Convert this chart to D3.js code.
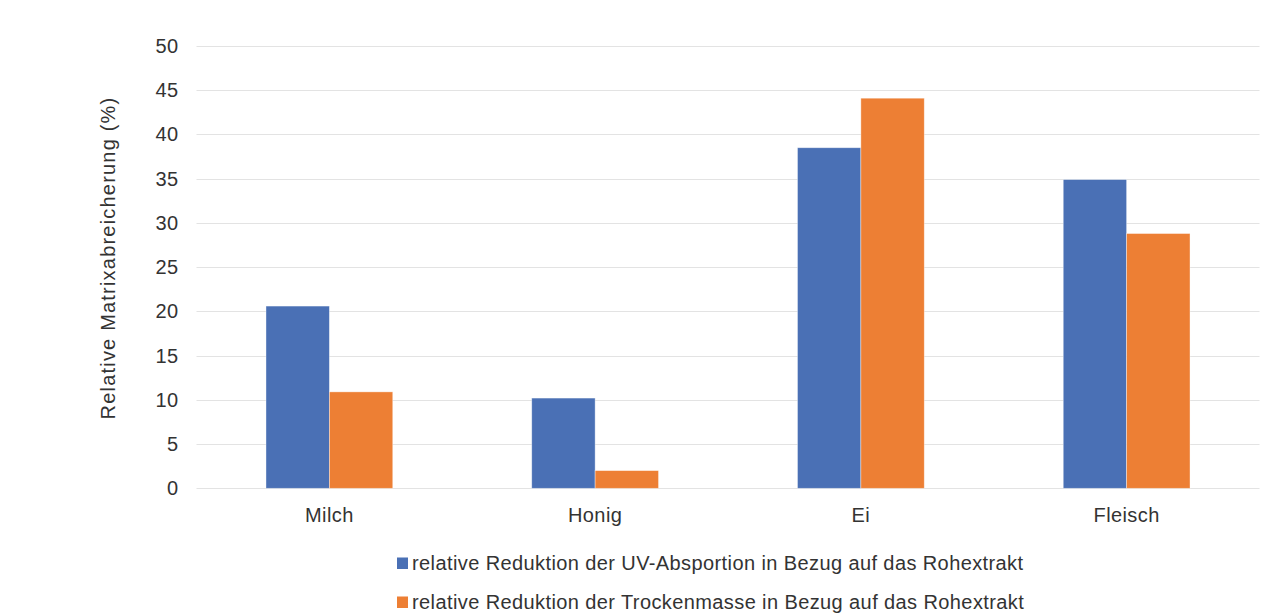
<!DOCTYPE html>
<html>
<head>
<meta charset="utf-8">
<script src="https://cdn.jsdelivr.net/npm/d3@7"></script>
<style>
  body { margin: 0; background: #fff; }
  svg text { font-family: "Liberation Sans", Arial, sans-serif; fill: #333333; }
</style>
</head>
<body>
<div id="chart"></div>
<script>
// data
const categories = ['Milch', 'Honig', 'Ei', 'Fleisch']
const seriesNames = [
  'relative Reduktion der UV-Absportion in Bezug auf das Rohextrakt',
  'relative Reduktion der Trockenmasse in Bezug auf das Rohextrakt',
]
const uvValues = [20.6, 10.2, 38.5, 34.9]
const dryValues = [10.9, 2.0, 44.1, 28.8]
const yTicks = [0, 5, 10, 15, 20, 25, 30, 35, 40, 45, 50]
const colors = ['#4a70b5', '#ed7f34']

const W = 1279, H = 613
const margin = { top: 46, right: 19.5, bottom: 124.7, left: 196.5 }
const width = W - margin.left - margin.right
const height = H - margin.top - margin.bottom
const fontSize = '20px'

const svg = d3.select('#chart').append('svg')
  .attr('width', W).attr('height', H)

const g = svg.append('g')
  .attr('transform', `translate(${margin.left},${margin.top})`)

const x0 = d3.scaleBand()
  .domain(categories)
  .range([0, width])
  .paddingInner(0.523)
  .paddingOuter(0.2615)

const x1 = d3.scaleBand()
  .domain([0, 1])
  .range([0, x0.bandwidth()])

const y = d3.scaleLinear().domain([0, 50]).range([height, 0])

// gridlines
g.append('g')
  .selectAll('line')
  .data(yTicks)
  .join('line')
  .attr('x1', 0)
  .attr('x2', width)
  .attr('y1', d => Math.round(y(d)) + 0.5)
  .attr('y2', d => Math.round(y(d)) + 0.5)
  .attr('stroke', '#e3e3e3')
  .attr('stroke-width', 1)

// y axis labels
g.append('g')
  .call(d3.axisLeft(y).tickValues(yTicks).tickSize(0).tickPadding(18))
  .call(a => a.select('.domain').remove())
  .call(a => a.selectAll('text')
    .style('font-size', fontSize)
    .style('font-family', '"Liberation Sans", Arial, sans-serif')
    .style('letter-spacing', '0.4px')
    .attr('fill', '#333333'))

// bars
const rows = categories.map((c, i) => ({ cat: c, vals: [uvValues[i], dryValues[i]] }))

g.append('g')
  .selectAll('g')
  .data(rows)
  .join('g')
  .attr('transform', d => `translate(${x0(d.cat)},0)`)
  .selectAll('rect')
  .data(d => d.vals.map((v, k) => ({ k, v })))
  .join('rect')
  .attr('x', d => x1(d.k))
  .attr('width', x1.bandwidth())
  .attr('y', d => y(d.v))
  .attr('height', d => y(0) - y(d.v))
  .attr('fill', d => colors[d.k])
  .attr('stroke', '#fff')
  .attr('stroke-opacity', 0.5)
  .attr('stroke-width', 0.75)

// x axis labels
g.append('g')
  .attr('transform', `translate(0,${height})`)
  .call(d3.axisBottom(x0).tickSize(0).tickPadding(20))
  .call(a => a.select('.domain').remove())
  .call(a => a.selectAll('text')
    .style('font-size', fontSize)
    .style('font-family', '"Liberation Sans", Arial, sans-serif')
    .style('letter-spacing', '0.4px')
    .attr('fill', '#333333'))

// y axis title
svg.append('text')
  .attr('transform', 'translate(115,258) rotate(-90)')
  .attr('text-anchor', 'middle')
  .style('font-size', fontSize)
  .style('letter-spacing', '1.2px')
  .text('Relative Matrixabreicherung (%)')

// legend
const legend = svg.append('g')
  .selectAll('g')
  .data(seriesNames)
  .join('g')
  .attr('transform', (d, i) => `translate(397,${570 + i * 39})`)

legend.append('rect')
  .attr('x', 0)
  .attr('y', -12.5)
  .attr('width', 11)
  .attr('height', 11.5)
  .attr('fill', (d, i) => colors[i])

legend.append('text')
  .attr('x', 15)
  .style('font-size', fontSize)
  .style('letter-spacing', '0.4px')
  .text(d => d)
</script>
</body>
</html>
